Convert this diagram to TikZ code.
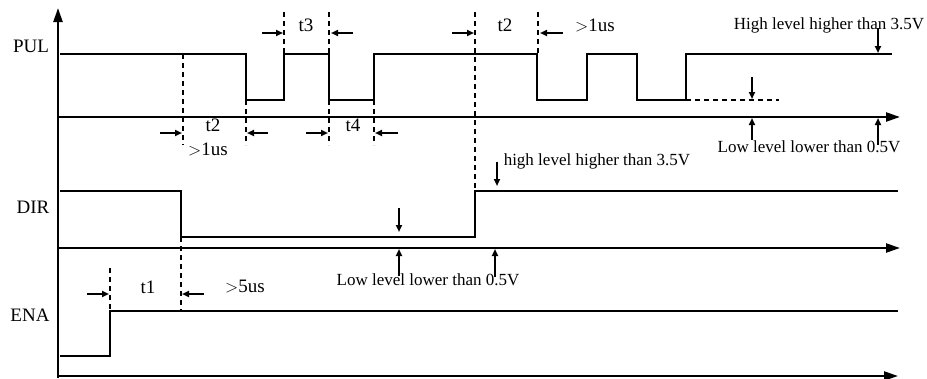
\documentclass[tikz,border=0pt]{standalone}
\usepackage{fontspec}
\setmainfont{Liberation Serif}
\usetikzlibrary{arrows.meta,positioning}

\begin{document}
\begin{tikzpicture}[x=1pt,y=-1pt,>={Triangle[length=7pt,width=6pt]}]
  \tikzstyle{sig}=[line width=1.8pt]
  \tikzstyle{axis}=[line width=2.3pt,-{Triangle[length=14pt,width=9pt]}]
  \tikzstyle{guide}=[line width=1.6pt,dash pattern=on 5pt off 4pt]
  \tikzstyle{dim}=[line width=2pt,->]
  \tikzstyle{lbl}=[font=\fontsize{19}{22}\selectfont,inner sep=0pt]
  \tikzstyle{note}=[font=\fontsize{17}{20}\selectfont,inner sep=0pt]
  \useasboundingbox (0,0) rectangle (927,378);

  % axes
  \draw[axis] (58,378) -- (58,8);
  \draw[axis] (58,117) -- (900,117);
  \draw[axis] (58,248) -- (900,248);
  \draw[axis] (58,376) -- (898,376);

  % signals
  \draw[sig] (60,54) -- (246,54) -- (246,100) -- (284,100) -- (284,54) -- (329,54)
    -- (329,100) -- (374,100) -- (374,54) -- (537,54) -- (537,100) -- (587,100)
    -- (587,54) -- (637,54) -- (637,100) -- (686,100) -- (686,54) -- (892,54);
  \draw[guide] (686,100) -- (779,100);
  \draw[sig] (60,191) -- (181,191) -- (181,237) -- (475,237) -- (475,191) -- (898,191);
  \draw[sig] (60,356) -- (110,356) -- (110,311) -- (898,311);

  % dashed guides
  \draw[guide] (183,54) -- (183,145);
  \draw[guide] (246,100) -- (246,145);
  \draw[guide] (284,12) -- (284,54);
  \draw[guide] (329,12) -- (329,54);
  \draw[guide] (329,100) -- (329,145);
  \draw[guide] (374,100) -- (374,145);
  \draw[guide] (475,12) -- (475,191);
  \draw[guide] (538,12) -- (538,54);
  \draw[guide] (181,237) -- (181,311);
  \draw[guide] (110,268) -- (110,311);

  % timing arrows
  \draw[dim] (262,33) -- (283,33);
  \draw[dim] (353,33) -- (331,33);
  \draw[dim] (452,33) -- (474,33);
  \draw[dim] (563,33) -- (540,33);
  \draw[dim] (160,133) -- (182,133);
  \draw[dim] (268,133) -- (247,133);
  \draw[dim] (306,133) -- (328,133);
  \draw[dim] (398,133) -- (375,133);
  \draw[dim] (87,294) -- (109,294);
  \draw[dim] (204,294) -- (182,294);

  % level arrows
  \draw[dim] (878,28) -- (878,53);
  \draw[dim] (752,77) -- (752,99);
  \draw[dim] (752,140) -- (752,118);
  \draw[dim] (878,145) -- (878,118);
  \draw[dim] (399,208) -- (399,232);
  \draw[dim] (399,276) -- (399,249);
  \draw[dim] (495,277) -- (495,249);
  \draw[dim] (497,162) -- (497,186);

  % labels
  \node[lbl] (pul) at (31,46) {PUL};
  \node[lbl] (dir) at (33,207) {DIR};
  \node[lbl] (ena) at (30,315) {ENA};
  \node[lbl] (t3) at (306,25) {t3};
  \node[lbl] (t2a) at (505,25) {t2};
  \node[lbl] (us1a) at (595,25) {$>$1us};
  \node[lbl] (t2b) at (213,125) {t2};
  \node[lbl] (us1b) at (208,149) {$>$1us};
  \node[lbl] (t4) at (353,125) {t4};
  \node[lbl] (t1) at (148,287) {t1};
  \node[lbl] (us5) at (245,287) {$>$5us};
  \node[note] (hiP) at (829,25) {High level higher than 3.5V};
  \node[note] (loP) at (809,147) {Low level lower than 0.5V};
  \node[note] (hiD) at (597,161) {high level higher than 3.5V};
  \node[note] (loD) at (428,280) {Low level lower than 0.5V};
\end{tikzpicture}
\end{document}
